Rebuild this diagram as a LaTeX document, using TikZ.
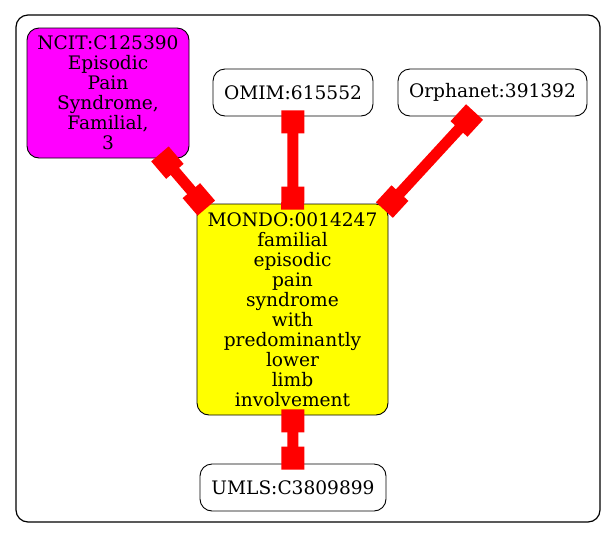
\documentclass[tikz,border=0pt]{standalone}
\usepackage{fontspec}
\setmainfont{DejaVu Serif}
\usetikzlibrary{arrows.meta}
\definecolor{termpink}{RGB}{255,0,255}
\definecolor{termyellow}{RGB}{255,255,0}
\definecolor{linkred}{RGB}{255,0,0}

\begin{document}
\begin{tikzpicture}[x=1pt,y=-1pt,
    term/.style={draw, line width=0.9pt, rounded corners=12pt, align=center,
        inner sep=0pt, font=\fontsize{18.6}{20}\selectfont},
    link/.style={draw=linkred, line width=11pt,
        {Square[length=23pt,width=23pt]}-{Square[length=23pt,width=23pt]},
        shorten <=-6pt, shorten >=-6pt}]
    \useasboundingbox (0,0) rectangle (616,539);

    % Rahmen
    \draw[line width=1.2pt, rounded corners=12pt] (16,15) rectangle (600,522);

    % Knoten
    \node[term, fill=termpink, minimum width=162pt, minimum height=130pt] (ncit) at (108,93)
        {NCIT:C125390\\Episodic\\Pain\\Syndrome,\\Familial,\\3};
    \node[term, minimum width=160pt, minimum height=47pt] (omim) at (293,92.5) {OMIM:615552};
    \node[term, minimum width=189pt, minimum height=47pt] (orpha) at (492.5,92.5) {Orphanet:391392};
    \node[term, fill=termyellow, minimum width=191pt, minimum height=211pt] (mondo) at (292.5,309.5)
        {MONDO:0014247\\familial\\episodic\\pain\\syndrome\\with\\predominantly\\lower\\limb\\involvement};
    \node[term, minimum width=186pt, minimum height=47pt] (umls) at (293,487.5) {UMLS:C3809899};

    % Verbindungen
    \draw[link] (ncit) -- (mondo);
    \draw[link] (omim) -- (mondo);
    \draw[link] (orpha) -- (mondo);
    \draw[link] (mondo) -- (umls);
\end{tikzpicture}
\end{document}
